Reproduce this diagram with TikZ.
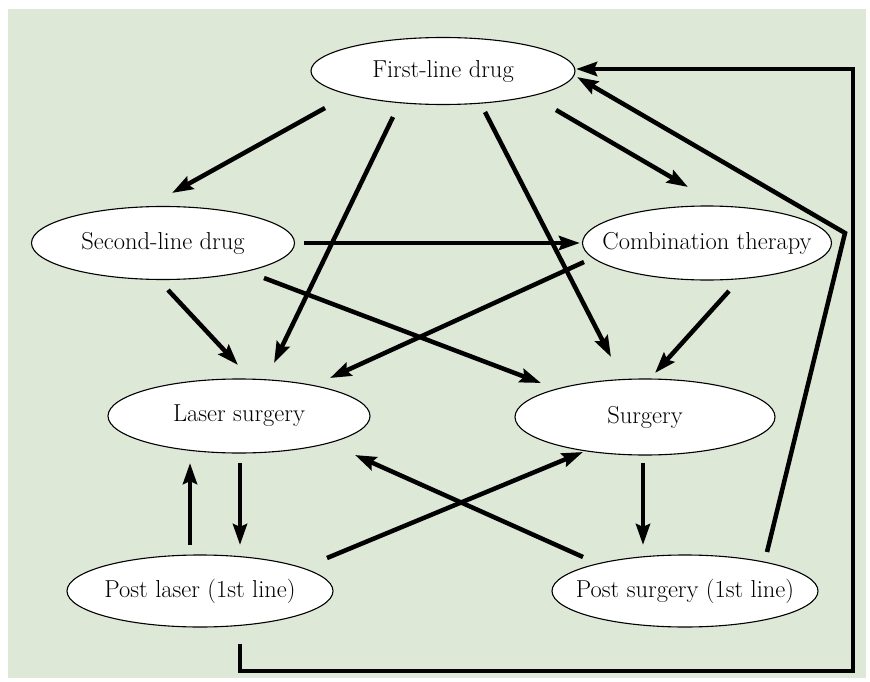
\documentclass[tikz,border=0pt]{standalone}
\usepackage{fontspec}
\usetikzlibrary{shapes.geometric,arrows.meta,calc}
\definecolor{panel}{RGB}{222,232,214}
\begin{document}
\begin{tikzpicture}[x=1pt,y=-1pt,
  state/.style={ellipse,draw=black,line width=1.1pt,fill=white,inner sep=0pt,
    label={[font=\fontsize{24.5}{28}\selectfont,inner sep=0pt]center:#1}},
  flow/.style={line width=4.5pt,-{Stealth[length=21pt,width=14pt,inset=3pt]}}]
  \useasboundingbox (0,0) rectangle (870,682);
  \fill[panel] (8,9) rectangle (866,678);

  % treatment states (ellipse size fixed, name set as a centred label)
  \node[state={First-line drug},minimum width=264pt,minimum height=67pt] (F) at (443,71) {};
  \node[state={Second-line drug},minimum width=263pt,minimum height=73pt] (S) at (163,243) {};
  \node[state={Combination therapy},minimum width=249pt,minimum height=74pt] (C) at (707,243) {};
  \node[state={Laser surgery},minimum width=262pt,minimum height=74pt] (L) at (239,416) {};
  \node[state={Surgery},minimum width=260pt,minimum height=76pt] (G) at (645,417) {};
  \node[state={Post laser (1st line)},minimum width=266pt,minimum height=72pt] (P) at (200,591) {};
  \node[state={Post surgery (1st line)},minimum width=266pt,minimum height=72pt] (Q) at (685,591) {};

  % corners of the return paths
  \coordinate (bend) at (845,233);
  \coordinate (loopBR) at (853,671);

  % transitions
  \draw[flow] ($(F)+(-118,37)$) -- ($(S)+(9,-50)$);
  \draw[flow] ($(F)+(-50,46)$) -- ($(L)+(35,-53)$);
  \draw[flow] ($(F)+(42,41)$) -- ($(G)+(-34,-60)$);
  \draw[flow] ($(F)+(113,39)$) -- ($(C)+(-19,-56)$);
  \draw[flow] ($(S)+(141,0)$) -- ($(C)+(-127,0)$);
  \draw[flow] ($(S)+(5,47)$) -- ($(L)+(-1,-51)$);
  \draw[flow] ($(S)+(101,35)$) -- ($(G)+(-104,-34)$);
  \draw[flow] ($(C)+(-123,19)$) -- ($(L)+(91,-38)$);
  \draw[flow] ($(C)+(22,48)$) -- ($(G)+(10,-44)$);
  \draw[flow] ($(P)+(-10,-46)$) -- ($(L)+(-49,47)$);
  \draw[flow] ($(L)+(1,47)$) -- ($(P)+(40,-46)$);
  \draw[flow] ($(P)+(127,-33)$) -- ($(G)+(-62,35)$);
  \draw[flow] ($(Q)+(-102,-34)$) -- ($(L)+(116,39)$);
  \draw[flow] ($(G)+(-2,46)$) -- ($(Q)+(-42,-46)$);
  \draw[flow] ($(Q)+(82,-39)$) -- (bend) -- ($(F)+(134,6)$);
  \draw[flow] ($(P)+(40,53)$) |- (loopBR) |- ($(F)+(133,-2)$);
\end{tikzpicture}
\end{document}
